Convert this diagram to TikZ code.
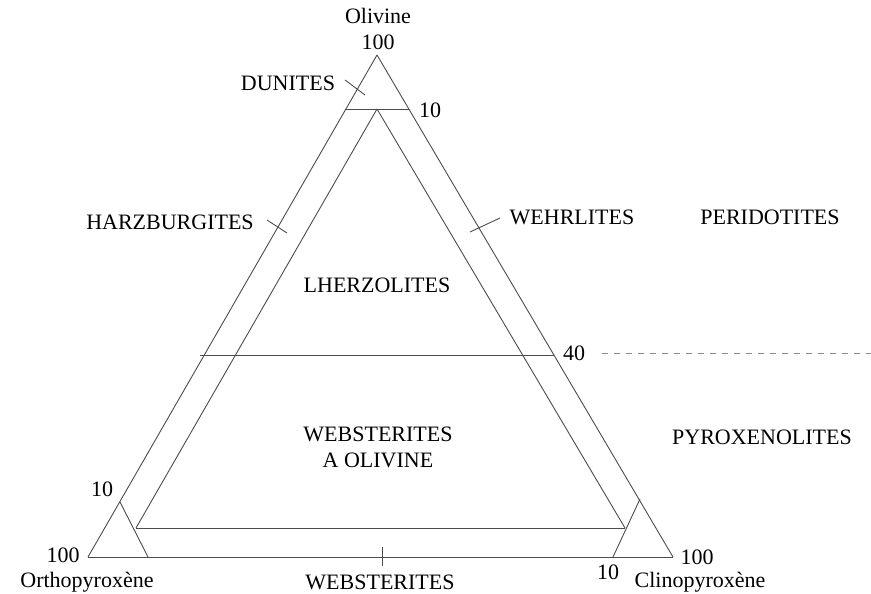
\documentclass[tikz,border=0pt]{standalone}
\usepackage{fontspec}
\setmainfont{Liberation Serif}
\usepackage{tikz}
\usetikzlibrary{arrows.meta}

\tikzset{
    lbl/.style={font=\fontsize{22}{26}\selectfont, inner sep=0pt, align=center},
    fld/.style={draw=black!70, line width=0.9pt},
}

\begin{document}
\begin{tikzpicture}[x=1pt, y=-1pt]
\useasboundingbox (0,0) rectangle (871,594);
\begin{scope}
    % corners of the triangle
    \coordinate (ol) at (377,55);
    \coordinate (opx) at (88,557);
    \coordinate (cpx) at (673,557);

    % olivine 90 and 40
    \coordinate (d1) at (345,109);
    \coordinate (d2) at (409,109);
    \coordinate (m) at (377,109);
    \coordinate (p1) at (200,355);
    \coordinate (p2) at (554,355);

    % olivine 10
    \coordinate (b1) at (136,528);
    \coordinate (b2) at (625,528);

    % pyroxene 90
    \coordinate (c1) at (120,502);
    \coordinate (c2) at (148,557);
    \coordinate (c3) at (640,499);
    \coordinate (c4) at (613,557);

    % little ticks
    \coordinate (t1) at (345,80);
    \coordinate (t2) at (365,95);
    \coordinate (t3) at (267,220);
    \coordinate (t4) at (287,233);
    \coordinate (t5) at (470,232);
    \coordinate (t6) at (500,218);
    \coordinate (t7) at (382,547);
    \coordinate (t8) at (382,566);
    \coordinate (s1) at (602,353);
    \coordinate (s2) at (871,353);

    \path [fld] (ol) edge (opx);
    \path [fld] (opx) edge (cpx);
    \path [fld] (cpx) edge (ol);
    \path [fld] (d1) edge (d2);
    \path [fld] (p1) edge (p2);
    \path [fld] (m) edge (b1);
    \path [fld] (m) edge (b2);
    \path [fld] (b1) edge (b2);
    \path [fld] (c1) edge (c2);
    \path [fld] (c3) edge (c4);
    \path [fld] (t1) edge (t2);
    \path [fld] (t3) edge (t4);
    \path [fld] (t5) edge (t6);
    \path [fld] (t7) edge (t8);
    \path [draw=black!45, line width=0.8pt, dash pattern=on 6pt off 6pt] (s1) edge (s2);

    % labels
    \node[lbl] (olv) at (378,16) {Olivine};
    \node[lbl] (o100) at (378,42) {100};
    \node[lbl] (dun) at (288,83) {DUNITES};
    \node[lbl] (o10) at (430,110) {10};
    \node[lbl] (har) at (170,222) {HARZBURGITES};
    \node[lbl] (weh) at (572,217) {WEHRLITES};
    \node[lbl] (per) at (770,217) {PERIDOTITES};
    \node[lbl] (lhe) at (377,285) {LHERZOLITES};
    \node[lbl] (o40) at (574,353) {40};
    \node[lbl] (wol) at (378,447) {WEBSTERITES\\A OLIVINE};
    \node[lbl] (pyr) at (762,437) {PYROXENOLITES};
    \node[lbl] (x10) at (102,489) {10};
    \node[lbl] (x100) at (63,555) {100};
    \node[lbl] (orth) at (87,582) {Orthopyroxène};
    \node[lbl] (web) at (380,582) {WEBSTERITES};
    \node[lbl] (y10) at (608,572) {10};
    \node[lbl] (y100) at (697,557) {100};
    \node[lbl] (clin) at (700,582) {Clinopyroxène};
\end{scope}
\end{tikzpicture}
\end{document}
